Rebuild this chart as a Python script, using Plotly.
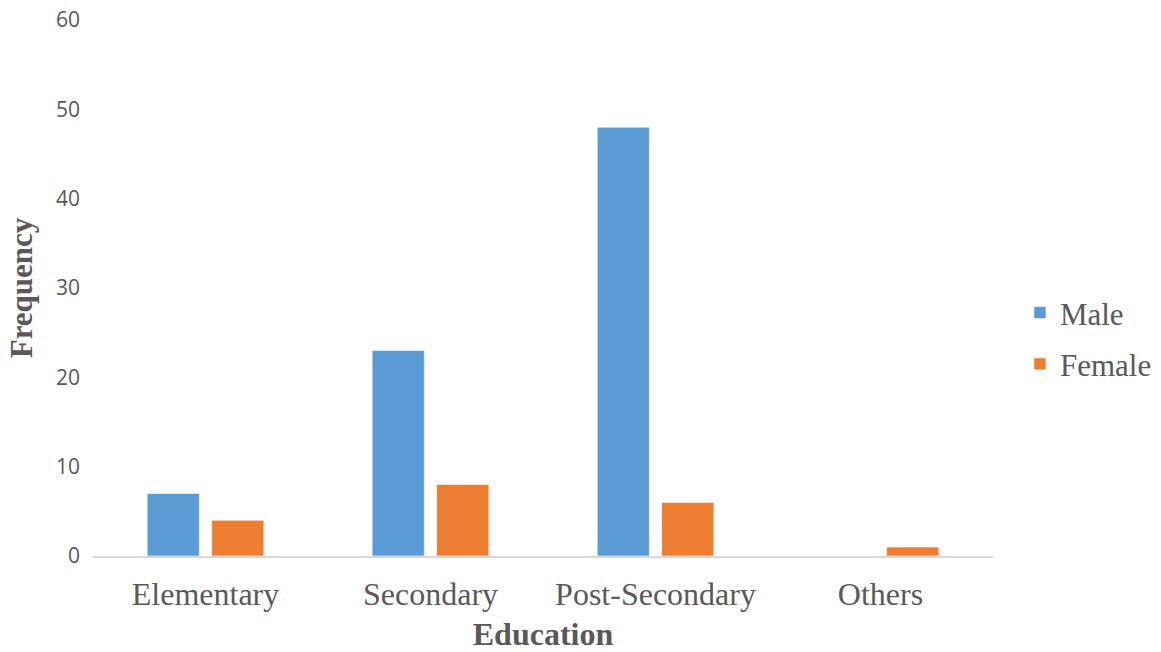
import plotly.graph_objects as go

categories = ["Elementary", "Secondary", "Post-Secondary", "Others"]
male = [7, 23, 48, 0]
female = [4, 8, 6, 1]
y_ticks = [0, 10, 20, 30, 40, 50, 60]

BLUE = "#5B9BD5"
ORANGE = "#ED7D31"
GREY_TEXT = "#595959"
SERIF = "Liberation Serif, Times New Roman, serif"
SANS = "Open Sans, Liberation Sans, sans-serif"

fig = go.Figure()
fig.add_trace(go.Bar(
    x=categories, y=male, name="Male", legendgroup="m",
    marker=dict(color=BLUE, line=dict(color="rgba(255,255,255,0.6)", width=1)),
))
fig.add_trace(go.Bar(
    x=categories, y=female, name="Female", legendgroup="f",
    marker=dict(color=ORANGE, line=dict(color="rgba(255,255,255,0.6)", width=1)),
))

fig.update_layout(
    width=1161, height=652,
    margin=dict(l=93, r=168, t=20, b=96, autoexpand=False),
    paper_bgcolor="white", plot_bgcolor="white",
    barmode="group", bargap=0.427, bargroupgap=0.19,
    legend=dict(
        xref="container", yref="container",
        x=0.8785, y=0.481, xanchor="left", yanchor="middle",
        font=dict(family=SERIF, size=31, color=GREY_TEXT),
        tracegroupgap=8, itemwidth=30,
    ),
    xaxis=dict(
        showline=True, linecolor="#D9D9D9", linewidth=2,
        ticks="", tickfont=dict(family=SERIF, size=32, color=GREY_TEXT),
        ticklabelstandoff=9, automargin=True,
        title=dict(text="<b>Education</b>", font=dict(family=SERIF, size=32, color=GREY_TEXT), standoff=13),
        showgrid=False,
    ),
    yaxis=dict(
        range=[0, 60], tickvals=y_ticks, showgrid=False, zeroline=False,
        showline=False, ticks="", automargin=False,
        tickfont=dict(family=SANS, size=21, color=GREY_TEXT),
        ticklabelstandoff=12,
        title=dict(text="<b>Frequency</b>", font=dict(family=SERIF, size=31, color=GREY_TEXT), standoff=14),
    ),
)

fig.write_html("out.html")
